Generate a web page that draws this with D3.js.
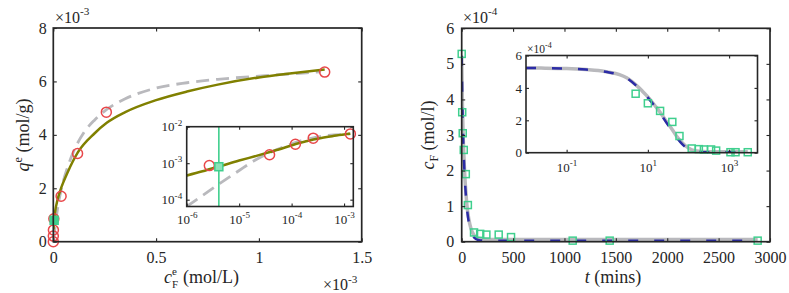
<!DOCTYPE html>
<html><head><meta charset="utf-8">
<script src="https://cdn.jsdelivr.net/npm/d3@7"></script>
<style>
body{margin:0;background:#fff}
svg{display:block}
text{font-family:"Liberation Serif","DejaVu Serif",serif;fill:#262626}
</style>
</head><body>
<svg id="c" width="789" height="293"></svg>
<script>
// ---------- data: left panel (isotherm) ----------
const ceData = [1e-8, 1e-7, 5e-7, 2.7e-6, 3.8e-5, 1.18e-4, 2.58e-4, 1.32e-3];   // mol/L
const qeData = [0, 2.1e-4, 4.4e-4, 8.6e-4, 1.7e-3, 3.3e-3, 4.85e-3, 6.35e-3];   // mol/g
const markCe = [4.1e-6];
const markQe = [8.0e-4];
const oliveC = [1e-6, 2e-6, 4e-6, 1e-5, 2e-5, 4e-5, 7e-5, 1.2e-4, 2e-4, 2.6e-4, 3.5e-4, 5e-4, 6.5e-4, 8e-4, 1e-3, 1.15e-3, 1.32e-3];
const oliveQ = [4.6e-4, 6.0e-4, 8.0e-4, 1.18e-3, 1.55e-3, 2.05e-3, 2.6e-3, 3.35e-3, 4.05e-3, 4.45e-3, 4.85e-3, 5.3e-3, 5.62e-3, 5.88e-3, 6.15e-3, 6.3e-3, 6.45e-3];
const grayC  = [1e-6, 2e-6, 4e-6, 1e-5, 2e-5, 4e-5, 7e-5, 1e-4, 1.5e-4, 2e-4, 2.6e-4, 3.5e-4, 5e-4, 6.5e-4, 8e-4, 1e-3, 1.15e-3, 1.3e-3];
const grayQ  = [6.5e-5, 1.3e-4, 2.6e-4, 6.3e-4, 1.2e-3, 2.0e-3, 2.8e-3, 3.4e-3, 4.1e-3, 4.55e-3, 4.95e-3, 5.35e-3, 5.75e-3, 5.95e-3, 6.08e-3, 6.2e-3, 6.28e-3, 6.36e-3];
const xTicksL = [0, 0.5e-3, 1e-3, 1.5e-3];
const xTickLabelsL = ["0", "0.5", "1", "1.5"];
const yTicksL = [0, 2e-3, 4e-3, 6e-3, 8e-3];
const yTickLabelsL = ["0", "2", "4", "6", "8"];
const xTicksLi = [1e-6, 1e-5, 1e-4, 1e-3];
const yTicksLi = [1e-4, 1e-3, 1e-2];

// ---------- data: right panel (kinetics) ----------
const tData = [0, 5, 10, 20, 40, 60, 120, 180, 240, 360, 480, 1080, 1440, 2880];           // mins
const cData = [5.28e-4, 3.64e-4, 3.05e-4, 2.58e-4, 1.9e-4, 1.03e-4, 0.26e-4, 0.22e-4, 0.2e-4, 0.2e-4, 0.13e-4, 0.03e-4, 0.03e-4, 0.03e-4];
const tFit  = [0.01, 0.03, 0.1, 0.3, 0.6, 1, 2, 3, 5, 7, 10, 15, 20, 30, 40, 50, 70, 90, 120, 160, 220, 300, 500, 1000, 2000, 2880];
const grayFitC = [5.23, 5.22, 5.19, 5.13, 5.07, 4.98, 4.82, 4.63, 4.2, 3.85, 3.45, 2.9, 2.5, 1.85, 1.42, 1.05, 0.62, 0.37, 0.18, 0.1, 0.07, 0.06, 0.06, 0.06, 0.06, 0.06].map(v => v * 1e-4);
const blueFitC = [5.23, 5.22, 5.19, 5.13, 5.07, 4.98, 4.8, 4.6, 4.17, 3.8, 3.4, 2.85, 2.44, 1.78, 1.33, 0.97, 0.53, 0.3, 0.12, 0.05, 0.03, 0.03, 0.03, 0.03, 0.03, 0.03].map(v => v * 1e-4);
const xTicksR = [0, 500, 1000, 1500, 2000, 2500, 3000];
const yTicksR = [0, 1e-4, 2e-4, 3e-4, 4e-4, 5e-4, 6e-4];
const xTicksRi = [0.1, 10, 1000];
const yTicksRi = [0, 2e-4, 4e-4, 6e-4];

// ---------- colours ----------
const INK = "#262626", OLIVE = "#808000", GRAY = "#b9b9bd", RED = "#e8474a", GREEN = "#3fcf8e", BLUE = "#2b2ba6";
const FONT = "Liberation Serif, DejaVu Serif, serif";

const svg = d3.select("#c");
const defs = svg.append("defs");
let clipN = 0;

function makeAxes(xs, ys, o) {
  const [x0, x1] = xs.range(), [y1, y0] = ys.range();
  const g = svg.append("g");
  if (o.bg) g.append("rect").attr("x", x0).attr("y", y0).attr("width", x1 - x0).attr("height", y1 - y0).attr("fill", "#fff");
  const id = "clip" + (clipN++);
  defs.append("clipPath").attr("id", id).append("rect").attr("x", x0).attr("y", y0).attr("width", x1 - x0).attr("height", y1 - y0);
  const plot = g.append("g").attr("clip-path", `url(#${id})`);
  const marks = g.append("g");
  const axG = g.append("g");
  const style = s => s.attr("font-size", o.fs).attr("font-family", FONT).attr("color", INK);
  const bx = axG.append("g").attr("transform", `translate(0,${y1})`)
    .call(d3.axisBottom(xs).tickValues(o.xt).tickSizeInner(-o.tick).tickSizeOuter(0).tickPadding(o.padX).tickFormat(o.fx)).call(style);
  const tx = axG.append("g").attr("transform", `translate(0,${y0})`)
    .call(d3.axisTop(xs).tickValues(o.xt).tickSizeInner(-o.tick).tickSizeOuter(0).tickFormat(() => ""));
  const ly = axG.append("g").attr("transform", `translate(${x0},0)`)
    .call(d3.axisLeft(ys).tickValues(o.yt).tickSizeInner(-o.tick).tickSizeOuter(0).tickPadding(o.padY).tickFormat(o.fy)).call(style);
  const ry = axG.append("g").attr("transform", `translate(${x1},0)`)
    .call(d3.axisRight(ys).tickValues(o.yt).tickSizeInner(-o.tick).tickSizeOuter(0).tickFormat(() => ""));
  [bx, tx, ly, ry].forEach(a => { a.select(".domain").remove(); a.selectAll(".tick line").attr("stroke", INK).attr("stroke-width", 1.1); });
  if (o.logX) logLabels(bx, o.fs);
  if (o.logY) logLabels(ly, o.fs);
  axG.append("rect").attr("x", x0).attr("y", y0).attr("width", x1 - x0).attr("height", y1 - y0)
    .attr("fill", "none").attr("stroke", INK).attr("stroke-width", o.frameW);
  return { g, plot, marks };
}

function logLabels(axisSel, fs) {
  axisSel.selectAll(".tick text").text(null).each(function (d) {
    const t = d3.select(this);
    t.append("tspan").text("10");
    t.append("tspan").attr("dy", -fs * 0.42).attr("font-size", fs * 0.7).text(String(Math.round(Math.log10(d))));
  });
}

function supText(x, y, base, exp, fs, anchor) {
  const t = svg.append("text").attr("x", x).attr("y", y).attr("font-size", fs).attr("text-anchor", anchor || "start");
  t.append("tspan").text(base);
  t.append("tspan").attr("dy", -fs * 0.45).attr("font-size", fs * 0.7).text(exp);
  return t;
}

const circles = (sel, xs, ys, C, Q, filt) => sel.selectAll(null).data(d3.range(C.length).filter(i => !filt || filt(C[i], Q[i]))).join("circle")
  .attr("cx", i => xs(C[i])).attr("cy", i => ys(Q[i])).attr("r", 5).attr("fill", "none").attr("stroke", RED).attr("stroke-width", 1.5);
const squares = (sel, xs, ys, C, Q, s, fill, filt) => sel.selectAll(null).data(d3.range(C.length).filter(i => !filt || filt(C[i], Q[i]))).join("rect")
  .attr("x", i => xs(C[i]) - s / 2).attr("y", i => ys(Q[i]) - s / 2).attr("width", s).attr("height", s)
  .attr("fill", fill).attr("stroke", GREEN).attr("stroke-width", 1.5);
const pathOf = (xs, ys, X, Y) => d3.line().x(i => xs(X[i])).y(i => ys(Y[i])).curve(d3.curveMonotoneX)(d3.range(X.length));

// ================= LEFT MAIN =================
const xL = d3.scaleLinear([0, 1.5e-3], [53.3, 361.7]);
const yL = d3.scaleLinear([0, 8e-3], [241.7, 28]);
const A = makeAxes(xL, yL, { xt: xTicksL, yt: yTicksL, fx: (d, i) => xTickLabelsL[i], fy: (d, i) => yTickLabelsL[i], fs: 16, padX: 10, padY: 6.5, tick: 3.5, frameW: 1.7 });
A.plot.append("path").attr("d", pathOf(xL, yL, grayC, grayQ)).attr("fill", "none").attr("stroke", GRAY).attr("stroke-width", 2.8).attr("stroke-dasharray", "13,7");
A.plot.append("path").attr("d", pathOf(xL, yL, oliveC, oliveQ)).attr("fill", "none").attr("stroke", OLIVE).attr("stroke-width", 2.5);
circles(A.marks, xL, yL, ceData, qeData);
squares(A.marks, xL, yL, markCe, markQe, 8, GREEN);

// ================= LEFT INSET =================
const xLi = d3.scaleLog([1e-6, 1.5e-3], [186.7, 353.3]);
const yLi = d3.scaleLog([6.5e-5, 1e-2], [206.5, 126.7]);
const B = makeAxes(xLi, yLi, { xt: xTicksLi, yt: yTicksLi, fx: d => "", fy: d => "", fs: 13, padX: 8, padY: 4.5, tick: 3, frameW: 1.6, logX: true, logY: true, bg: true });
B.plot.append("path").attr("d", pathOf(xLi, yLi, grayC, grayQ)).attr("fill", "none").attr("stroke", GRAY).attr("stroke-width", 2.8).attr("stroke-dasharray", "13,7");
B.plot.append("path").attr("d", pathOf(xLi, yLi, oliveC, oliveQ)).attr("fill", "none").attr("stroke", OLIVE).attr("stroke-width", 2.5);
B.plot.selectAll(null).data(markCe).join("line").attr("x1", d => xLi(d)).attr("x2", d => xLi(d))
  .attr("y1", yLi.range()[0]).attr("y2", yLi.range()[1]).attr("stroke", GREEN).attr("stroke-width", 1.6);
circles(B.marks, xLi, yLi, ceData, qeData, (c, q) => c >= 1e-6 && q > 0);
squares(B.marks, xLi, yLi, markCe, markQe, 8, "#8de2b8");

// left texts
supText(55, 22.5, "\u00d710", "-3", 16);
supText(323, 290, "\u00d710", "-3", 16);
{
  const x = 164, y = 283;
  svg.append("text").attr("x", x).attr("y", y).attr("font-size", 18).attr("font-style", "italic").text("c");
  svg.append("text").attr("x", x + 8).attr("y", y - 8).attr("font-size", 11).text("e");
  svg.append("text").attr("x", x + 8).attr("y", y + 5).attr("font-size", 11).text("F");
  svg.append("text").attr("x", x + 19).attr("y", y).attr("font-size", 18).text("(mol/L)");
}
{
  const t = svg.append("text").attr("transform", "translate(29,135) rotate(-90)").attr("text-anchor", "middle").attr("font-size", 18);
  t.append("tspan").attr("font-style", "italic").text("q");
  t.append("tspan").attr("dy", -7).attr("font-size", 12).text("e");
  t.append("tspan").attr("dy", 7).text(" (mol/g)");
}

// ================= RIGHT MAIN =================
const xR = d3.scaleLinear([0, 3000], [461.7, 770]);
const yR = d3.scaleLinear([0, 6e-4], [241.7, 28.3]);
const C = makeAxes(xR, yR, { xt: xTicksR, yt: yTicksR, fx: d => String(d), fy: d => String(Math.round(d / 1e-4)), fs: 16, padX: 10, padY: 7.5, tick: 3.5, frameW: 1.7 });
C.plot.append("path").attr("d", pathOf(xR, yR, tFit, grayFitC)).attr("fill", "none").attr("stroke", GRAY).attr("stroke-width", 3.5);
C.plot.append("path").attr("d", pathOf(xR, yR, tFit, blueFitC)).attr("fill", "none").attr("stroke", BLUE).attr("stroke-width", 2.5).attr("stroke-dasharray", "10,16");
squares(C.marks, xR, yR, tData, cData, 7, "none");

// ================= RIGHT INSET =================
const xRi = d3.scaleLog([0.01, 5000], [526, 757.5]);
const yRi = d3.scaleLinear([0, 6e-4], [152.7, 55.5]);
const D = makeAxes(xRi, yRi, { xt: xTicksRi, yt: yTicksRi, fx: d => "", fy: d => String(Math.round(d / 1e-4)), fs: 13, padX: 10, padY: 4, tick: 3, frameW: 1.6, logX: true, bg: true });
D.plot.append("path").attr("d", pathOf(xRi, yRi, tFit, grayFitC)).attr("fill", "none").attr("stroke", GRAY).attr("stroke-width", 3.5);
D.plot.append("path").attr("d", pathOf(xRi, yRi, tFit, blueFitC)).attr("fill", "none").attr("stroke", BLUE).attr("stroke-width", 2.5).attr("stroke-dasharray", "10,16");
squares(D.marks, xRi, yRi, tData, cData, 7, "none", t => t > 0);

// right texts
supText(463, 22.5, "\u00d710", "-4", 16);
supText(527, 53, "\u00d710", "-4", 11.5);
{
  const t = svg.append("text").attr("x", 613).attr("y", 283).attr("text-anchor", "middle").attr("font-size", 18);
  t.append("tspan").attr("font-style", "italic").text("t");
  t.append("tspan").text(" (mins)");
}
{
  const t = svg.append("text").attr("transform", "translate(434,135) rotate(-90)").attr("text-anchor", "middle").attr("font-size", 18);
  t.append("tspan").attr("font-style", "italic").text("c");
  t.append("tspan").attr("dy", 4).attr("font-size", 12).text("F");
  t.append("tspan").attr("dy", -4).text(" (mol/l)");
}
</script>
</body></html>
